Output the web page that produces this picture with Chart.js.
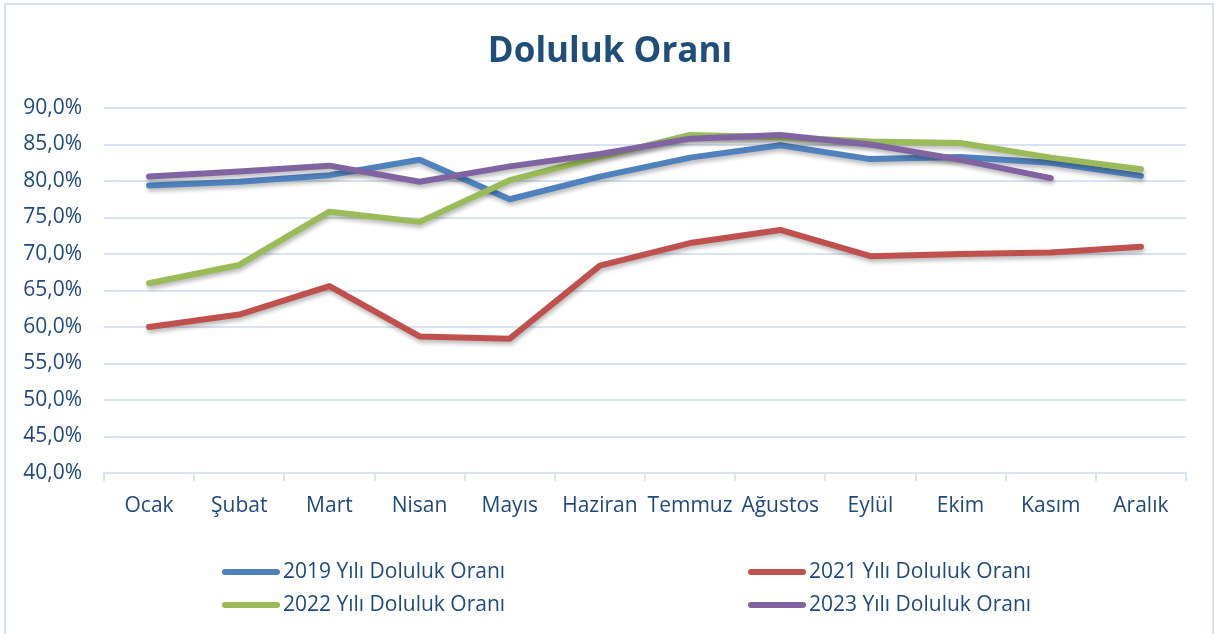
<!DOCTYPE html>
<html>
<head>
<meta charset="utf-8">
<script src="https://cdn.jsdelivr.net/npm/chart.js@4.4.0/dist/chart.umd.min.js"></script>
<style>
  html, body { margin: 0; padding: 0; background: #fff; }
  #wrap { width: 1215px; height: 634px; position: relative; }
</style>
</head>
<body>
<div id="wrap"><canvas id="myChart" width="1215" height="634"></canvas></div>
<script>
// DATOS //
const months = ["Ocak", "Şubat", "Mart", "Nisan", "Mayıs", "Haziran", "Temmuz", "Ağustos", "Eylül", "Ekim", "Kasım", "Aralık"];
const seriesNames = ["2019 Yılı Doluluk Oranı", "2021 Yılı Doluluk Oranı", "2022 Yılı Doluluk Oranı", "2023 Yılı Doluluk Oranı"];
const data2019 = [79.4, 79.9, 80.8, 82.9, 77.5, 80.6, 83.2, 84.9, 83.0, 83.3, 82.5, 80.7];
const data2021 = [60.0, 61.7, 65.6, 58.7, 58.4, 68.4, 71.5, 73.3, 69.7, 70.0, 70.2, 71.0];
const data2022 = [66.0, 68.5, 75.8, 74.4, 80.1, 83.3, 86.3, 86.0, 85.4, 85.2, 83.2, 81.6];
const data2023 = [80.6, 81.3, 82.1, 79.9, 82.0, 83.7, 85.8, 86.3, 85.0, 82.9, 80.4, null];
const yMin = 40;
const yMax = 90;
const yStep = 5;

const colores = ["#4F81BD", "#C0504D", "#9BBB59", "#8064A2"];
const textColor = "#1F497D";
const gridColor = "#D9E3F1";
const fontName = "'Open Sans', sans-serif";

// fondo, marco y titulo //
const marco = {
  id: "marco",
  beforeDraw(chart) {
    const ctx = chart.ctx;
    ctx.save();
    ctx.fillStyle = "#fff";
    ctx.fillRect(0, 0, chart.width, chart.height);
    ctx.strokeStyle = "#D6E1F0";
    ctx.lineWidth = 2;
    ctx.strokeRect(5, 4, chart.width - 7, chart.height + 10);
    ctx.fillStyle = "#1F4E79";
    ctx.font = "bold 35px " + fontName;
    ctx.textAlign = "center";
    ctx.textBaseline = "middle";
    ctx.fillText("Doluluk Oranı", 610, 52);
    ctx.restore();
  },
  // sombra de las lineas
  beforeDatasetDraw(chart) {
    const ctx = chart.ctx;
    ctx.save();
    ctx.shadowColor = "rgba(0,0,0,0.28)";
    ctx.shadowBlur = 4;
    ctx.shadowOffsetX = 1;
    ctx.shadowOffsetY = 3;
  },
  afterDatasetDraw(chart) {
    chart.ctx.restore();
  },
  // leyenda en dos columnas
  afterDraw(chart) {
    const ctx = chart.ctx;
    const pos = [[222, 572], [748, 572], [222, 605], [748, 605]];
    ctx.save();
    ctx.font = "21px " + fontName;
    ctx.textBaseline = "middle";
    ctx.lineCap = "round";
    chart.data.datasets.forEach((ds, k) => {
      const p = pos[k];
      ctx.strokeStyle = ds.borderColor;
      ctx.lineWidth = 6;
      ctx.beginPath();
      ctx.moveTo(p[0] + 3, p[1]);
      ctx.lineTo(p[0] + 55, p[1]);
      ctx.stroke();
      ctx.fillStyle = textColor;
      ctx.fillText(ds.label, p[0] + 61, p[1]);
    });
    ctx.restore();
  },
};

const allData = [data2019, data2021, data2022, data2023];

document.addEventListener("DOMContentLoaded", function () {
  const ctx = document.getElementById("myChart").getContext("2d");
  new Chart(ctx, {
    type: "line",
    data: {
      labels: months,
      datasets: allData.map((d, i) => ({
        label: seriesNames[i],
        data: d,
        borderColor: colores[i],
        backgroundColor: colores[i],
        borderWidth: 6,
        pointRadius: 0,
        tension: 0,
        borderCapStyle: "round",
        borderJoinStyle: "round",
        spanGaps: false,
        order: 4 - i,
      })),
    },
    options: {
      responsive: false,
      animation: false,
      devicePixelRatio: 1,
      layout: { padding: { top: 108, left: 0, right: 29, bottom: 0 } },
      plugins: {
        legend: { display: false },
        title: { display: false },
        tooltip: { enabled: false },
      },
      scales: {
        x: {
          offset: true,
          grid: {
            offset: true,
            drawOnChartArea: false,
            drawTicks: true,
            tickLength: 8,
            color: gridColor,
            lineWidth: 2,
          },
          border: { color: gridColor, width: 2 },
          ticks: {
            color: textColor,
            font: { family: fontName, size: 21 },
            padding: 12,
            maxRotation: 0,
            autoSkip: false,
          },
          afterFit(scale) {
            scale.height = 161;
          },
        },
        y: {
          min: yMin,
          max: yMax,
          grid: { color: gridColor, lineWidth: 2, drawTicks: false },
          border: { display: false },
          ticks: {
            stepSize: yStep,
            color: textColor,
            font: { family: fontName, size: 21 },
            padding: 22,
            callback: (v) => v.toFixed(1).replace(".", ",") + "%",
          },
          afterFit(scale) {
            scale.width = 104;
          },
        },
      },
    },
    plugins: [marco],
  });
});
</script>
</body>
</html>
